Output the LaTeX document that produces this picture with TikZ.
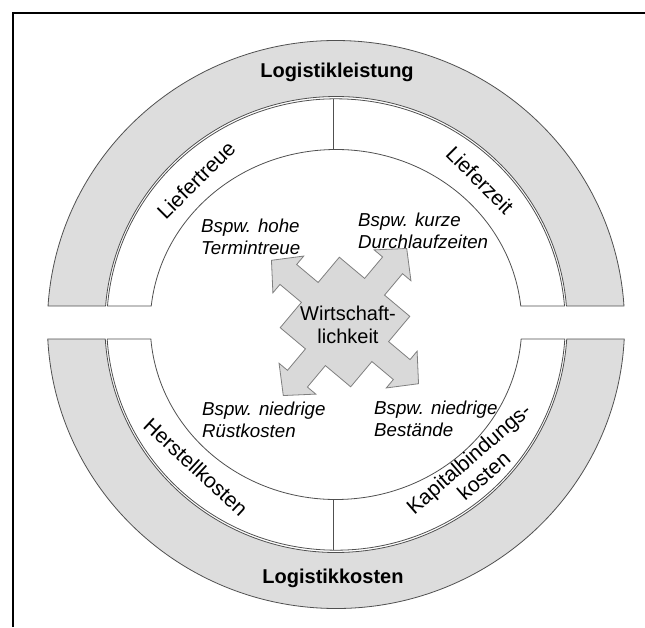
\documentclass[tikz,border=0pt]{standalone}
\usepackage{fontspec}
\setmainfont{Liberation Sans}
\definecolor{ringfill}{HTML}{DDDDDD}
\definecolor{ringedge}{HTML}{505050}
\definecolor{crossfill}{HTML}{D9D9D9}
\definecolor{crossedge}{HTML}{7F7F7F}

% upper half of an elliptic ring, cut off by the horizontal line y=#7
% #1,#2 centre; #3,#4 outer radii; #5,#6 inner radii; #8 style
\newcommand\upperring[8]{%
  \pgfmathsetmacro\so{asin((#7-#2)/#4)}%
  \pgfmathsetmacro\si{asin((#7-#2)/#6)}%
  \path[#8] ({#1+#3*cos(180-\so)},{#2+#4*sin(180-\so)})
    arc[start angle={180-\so}, end angle={360+\so}, x radius=#3, y radius=#4]
    -- ({#1+#5*cos(360+\si)},{#2+#6*sin(360+\si)})
    arc[start angle={360+\si}, end angle={180-\si}, x radius=#5, y radius=#6]
    -- cycle;}
% lower half of an elliptic ring, cut off by the horizontal line y=#7
\newcommand\lowerring[8]{%
  \pgfmathsetmacro\so{asin((#7-#2)/#4)}%
  \pgfmathsetmacro\si{asin((#7-#2)/#6)}%
  \path[#8] ({#1+#3*cos(\so)},{#2+#4*sin(\so)})
    arc[start angle={\so}, end angle={180-\so}, x radius=#3, y radius=#4]
    -- ({#1+#5*cos(180-\si)},{#2+#6*sin(180-\si)})
    arc[start angle={180-\si}, end angle={\si}, x radius=#5, y radius=#6]
    -- cycle;}

\begin{document}
\begin{tikzpicture}[x=1pt,y=-1pt,
  grayring/.style={fill=ringfill, draw=ringedge, line width=0.8pt},
  whitering/.style={fill=white, draw=ringedge, line width=0.8pt},
  divider/.style={draw=ringedge, line width=0.8pt},
  frameline/.style={draw=black, line width=2.7pt},
  crossarrow/.style={fill=crossfill, draw=crossedge, line width=0.8pt, line join=miter},
  headline/.style={font=\bfseries\fontsize{20}{23}\selectfont, inner sep=0pt},
  ringlabel/.style={font=\fontsize{21}{23}\selectfont, inner sep=0pt, align=center},
  example/.style={font=\itshape\fontsize{18.7}{21.5}\selectfont, inner sep=0pt, align=left, anchor=west},
  centerlabel/.style={font=\fontsize{20}{23}\selectfont, inner sep=0pt, align=center}]
\useasboundingbox (0,0) rectangle (645,627);

% frame (left and top edge)
\coordinate (frameBL) at (13,627);
\coordinate (frameTL) at (13,13);
\coordinate (frameTR) at (645,13);
\draw[frameline] (frameBL) -- (frameTL) -- (frameTR);

% outer grey half rings
\upperring{336}{324.5}{288.6}{284}{231.2}{228}{306}{grayring}
\lowerring{336}{324.5}{288.6}{284}{231.2}{228}{339}{grayring}

% inner white half rings
\upperring{336}{324.5}{229.3}{225.7}{185.8}{175}{306}{whitering}
\lowerring{336}{324.5}{229.3}{225.7}{185.8}{175}{339}{whitering}

% quadrant dividers
\coordinate (divTopOut) at (333,98.8);
\coordinate (divTopIn) at (333,149.5);
\coordinate (divBotOut) at (333,550.2);
\coordinate (divBotIn) at (333,499.5);
\draw[divider] (divTopOut) -- (divTopIn);
\draw[divider] (divBotOut) -- (divBotIn);

% central square with four arrows leaving its sides
% box half side, shaft half width, head half width, head base, tip distance
\def\aA{46}\def\aS{13}\def\aW{24}\def\aB{74}\def\aL{96}
\begin{scope}[shift={(345,322)}, rotate=50]
  \path[crossarrow]
    (\aA,-\aS) -- (\aB,-\aS) -- (\aB,-\aW) -- (\aL,0) -- (\aB,\aW) -- (\aB,\aS) -- (\aA,\aS) --
    (\aA,\aA) -- (\aS,\aA) --
    (\aS,\aB) -- (\aW,\aB) -- (0,\aL) -- (-\aW,\aB) -- (-\aS,\aB) -- (-\aS,\aA) --
    (-\aA,\aA) -- (-\aA,\aS) --
    (-\aB,\aS) -- (-\aB,\aW) -- (-\aL,0) -- (-\aB,-\aW) -- (-\aB,-\aS) -- (-\aA,-\aS) --
    (-\aA,-\aA) -- (-\aS,-\aA) --
    (-\aS,-\aB) -- (-\aW,-\aB) -- (0,-\aL) -- (\aW,-\aB) -- (\aS,-\aB) -- (\aS,-\aA) --
    (\aA,-\aA) -- cycle;
\end{scope}

% texts
\node[headline] (leistung) at (337,72) {Logistikleistung};
\node[headline] (kosten) at (333,578) {Logistikkosten};

\node[ringlabel, rotate=45] (treue) at (196,180) {Liefertreue};
\node[ringlabel, rotate=-45] (zeit) at (480,180) {Lieferzeit};
\node[ringlabel, rotate=-43] (herstell) at (196,467) {Herstellkosten};
\node[ringlabel, rotate=41] (kapital) at (476,467) {Kapitalbindungs-\\kosten};

\node[example] (exTreue) at (201,237) {Bspw. hohe\\Termintreue};
\node[example] (exZeit) at (358,231) {Bspw. kurze\\Durchlaufzeiten};
\node[example] (exRuest) at (202,420) {Bspw. niedrige\\Rüstkosten};
\node[example] (exBestand) at (374,419) {Bspw. niedrige\\Bestände};

\node[centerlabel] (wirt) at (348,325) {Wirtschaft-\\lichkeit};
\end{tikzpicture}
\end{document}
